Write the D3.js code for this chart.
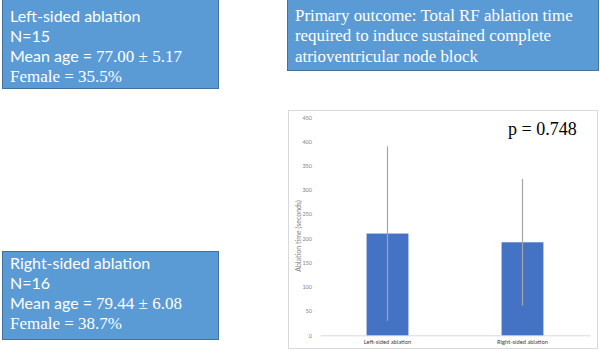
<!DOCTYPE html>
<html>
<head>
<meta charset="utf-8">
<script src="https://cdnjs.cloudflare.com/ajax/libs/d3/7.8.5/d3.min.js"></script>
<style>
  body { margin: 0; background: #fff; }
  svg { display: block; }
</style>
</head>
<body>
<div id="chart"></div>
<script>
// chart data
var groups = ["Left-sided ablation", "Right-sided ablation"];
var meanTime = [210, 192];
var sdTime = [180, 131];
var yTicks = [0, 50, 100, 150, 200, 250, 300, 350, 400, 450];
var pValue = "p = 0.748";

// text boxes
var leftBox = ["Left-sided ablation", "N=15", ["Mean age = ", "77.00 \u00b1 5.17"], "Female = 35.5%"];
var rightBox = ["Right-sided ablation", "N=16", ["Mean age = ", "79.44 \u00b1 6.08"], "Female = 38.7%"];
var outcomeBox = ["Primary outcome: Total RF ablation time", "required to induce sustained complete", "atrioventricular node block"];

var width = 600, height = 351;
var sans = "Lato, 'Open Sans', sans-serif";
var serif = "'Liberation Serif', 'DejaVu Serif', serif";

var svg = d3.select("#chart").append("svg")
    .attr("width", width)
    .attr("height", height);

function drawBox(x, y, w, h) {
    svg.append("rect")
        .attr("x", x + 0.5).attr("y", y + 0.5)
        .attr("width", w).attr("height", h)
        .attr("fill", "#5b9bd5")
        .attr("stroke", "#41719c")
        .attr("stroke-width", 1);
}

function drawInfo(lines, x, y0) {
    var lineGap = 20;
    // first two lines are sans
    for (var i = 0; i < 2; i++) {
        svg.append("text")
            .attr("x", x).attr("y", y0 + i * lineGap)
            .attr("fill", "#fff")
            .style("font-family", sans)
            .style("font-size", "16px")
            .text(lines[i]);
    }
    var t = svg.append("text")
        .attr("x", x).attr("y", y0 + 2 * lineGap)
        .attr("fill", "#fff");
    t.append("tspan").style("font-family", sans).style("font-size", "16px").text(lines[2][0]);
    t.append("tspan").style("font-family", serif).style("font-size", "17px").text(lines[2][1]);
    svg.append("text")
        .attr("x", x).attr("y", y0 + 3 * lineGap)
        .attr("fill", "#fff")
        .style("font-family", serif)
        .style("font-size", "17px")
        .text(lines[3]);
}

drawBox(2, -5, 216, 93);
drawInfo(leftBox, 10, 21.5);

drawBox(2, 251, 216, 88);
drawInfo(rightBox, 10, 268.5);

drawBox(287, -5, 311, 75);
outcomeBox.forEach(function(l, i) {
    svg.append("text")
        .attr("x", 295).attr("y", 21 + i * 20.4)
        .attr("fill", "#fff")
        .style("font-family", serif)
        .style("font-size", "16.9px")
        .text(l);
});

// chart area
svg.append("rect")
    .attr("x", 288.5).attr("y", 110.5)
    .attr("width", 309).attr("height", 238)
    .attr("fill", "#fff")
    .attr("stroke", "#d9d9d9");

var plot = {left: 320, right: 590, top: 117.3, bottom: 335.3};

var x = d3.scaleBand()
    .domain(groups)
    .range([plot.left, plot.right]);

var y = d3.scaleLinear()
    .domain([0, 450])
    .range([plot.bottom, plot.top]);

var yAxis = svg.append("g")
    .attr("transform", "translate(" + plot.left + ",0)")
    .call(d3.axisLeft(y).tickValues(yTicks).tickSize(0).tickPadding(8));
yAxis.select(".domain").remove();
yAxis.selectAll("text")
    .attr("fill", "#7f7f7f")
    .style("font-family", sans)
    .style("font-size", "5.5px");

var xAxis = svg.append("g")
    .attr("transform", "translate(0," + plot.bottom + ")")
    .call(d3.axisBottom(x).tickSize(0).tickPadding(5));
xAxis.select(".domain").attr("stroke", "#d9d9d9");
xAxis.selectAll("text")
    .attr("fill", "#404040")
    .style("font-family", sans)
    .style("font-size", "5.8px");

svg.append("text")
    .attr("transform", "translate(301," + 236 + ") rotate(-90)")
    .attr("text-anchor", "middle")
    .attr("fill", "#7f7f7f")
    .style("font-family", sans)
    .style("font-size", "7px")
    .text("Ablation time (seconds)");

var barW = x.bandwidth() * 0.31;

svg.selectAll(".bar")
    .data(groups)
    .enter()
    .append("rect")
    .attr("class", "bar")
    .attr("x", function(d) { return x(d) + x.bandwidth() / 2 - barW / 2; })
    .attr("y", function(d, i) { return y(meanTime[i]); })
    .attr("width", barW)
    .attr("height", function(d, i) { return y(0) - y(meanTime[i]); })
    .attr("fill", "#4472c4");

svg.selectAll(".err")
    .data(groups)
    .enter()
    .append("line")
    .attr("class", "err")
    .attr("x1", function(d) { return x(d) + x.bandwidth() / 2; })
    .attr("x2", function(d) { return x(d) + x.bandwidth() / 2; })
    .attr("y1", function(d, i) { return y(meanTime[i] + sdTime[i]); })
    .attr("y2", function(d, i) { return y(meanTime[i] - sdTime[i]); })
    .attr("stroke", "#a5a5a5")
    .attr("stroke-width", 1.2);

svg.append("text")
    .attr("x", 508).attr("y", 135)
    .attr("fill", "#000")
    .style("font-family", serif)
    .style("font-size", "18px")
    .text(pValue);
</script>
</body>
</html>
